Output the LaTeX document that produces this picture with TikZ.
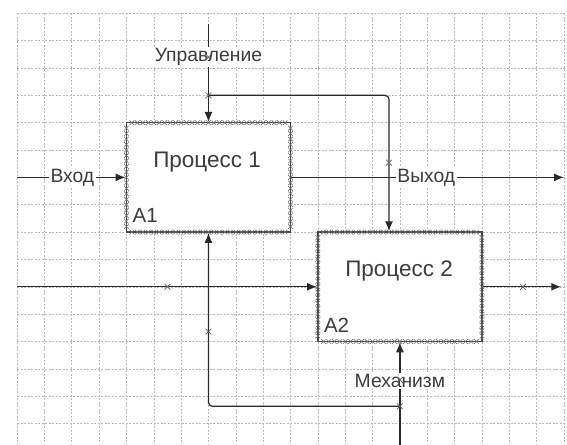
\documentclass[tikz,border=0pt]{standalone}
\usepackage{fontspec}
\setmainfont{Liberation Sans}
\usetikzlibrary{arrows.meta,shapes.misc}
\definecolor{ink}{HTML}{2A2A2A}
\definecolor{txt}{HTML}{3C3C3C}
\begin{document}
\begin{tikzpicture}[x=27.35pt,y=-27.35pt,
    gridline/.style={draw=gray!55,line width=.5pt,dash pattern=on 2pt off 1.5pt},
    proc/.style={draw=ink!85,line width=1.6pt,fill=white,inner sep=0,
        minimum width=164.1pt,minimum height=109.4pt},
    flow/.style={draw=ink,line width=1.2pt,-{Latex[length=10pt,width=8pt]}},
    lab/.style={fill=white,inner sep=1.5pt,text=txt,font=\fontsize{19.3}{22}\selectfont},
    title/.style={text=txt,font=\fontsize{22.5}{26}\selectfont},
    tag/.style={text=txt,anchor=base west,inner sep=0,font=\fontsize{20.5}{24}\selectfont},
    xmark/.style={cross out,draw=gray!75!black,line width=.7pt,minimum size=5pt,inner sep=0},
    tick/.style={cross out,draw=gray!85!black,line width=.6pt,minimum size=4pt,inner sep=0}]
\useasboundingbox (-.622,-.486) rectangle (20.11,15.75);

\foreach \i in {0,...,20} \draw[gridline] (\i,0) -- (\i,15.8);
\foreach \j in {0,...,15} \draw[gridline] (0,\j) -- (20.2,\j);

\node[proc] (p1) at (7,6) {};
\node[proc] (p2) at (14,10) {};
\foreach \x in {4.2,4.4,...,9.9} {\node[tick] at (\x,4) {}; \node[tick] at (\x,8) {};}
\foreach \y in {4.2,4.4,...,7.9} {\node[tick] at (4,\y) {}; \node[tick] at (10,\y) {};}
\foreach \x in {11.2,11.4,...,16.9} {\node[tick] at (\x,8) {}; \node[tick] at (\x,12) {};}
\foreach \y in {8.2,8.4,...,11.9} {\node[tick] at (11,\y) {}; \node[tick] at (17,\y) {};}
\node[title] (t1) at (6.95,5.43) {Процесс 1};
\node[title] (t2) at (13.97,9.42) {Процесс 2};
\node[tag] (a1) at (4.22,7.66) {A1};
\node[tag] (a2) at (11.22,11.66) {A2};

\coordinate (ctrl) at (7,.39);
\coordinate (cj) at (7,3);
\coordinate (in1) at (0,6);
\coordinate (out1) at (20,6);
\coordinate (in2) at (0,10);
\coordinate (out2) at (19.9,10);
\coordinate (mech) at (14,15.8);
\coordinate (mj) at (14,14.37);

\draw[flow] (ctrl) -- node[lab,pos=.335] (cl) {Управление} (p1.north);
\draw[flow,rounded corners=4pt] (cj) -| ([xshift=-10.9pt]p2.north);
\draw[flow] (in1) -- node[lab,pos=.51] (il) {Вход} (p1.west);
\draw[flow] (p1.east) -- node[lab,pos=.495] (ol) {Выход} (out1);
\draw[flow] (in2) -- (p2.west);
\draw[flow] (p2.east) -- (out2);
\draw[flow] (mech) -- node[lab,pos=.627] (ml) {Механизм} (p2.south);
\draw[flow,rounded corners=4pt] (mj) -| (p1.south);

\node[xmark] at (cj) {};
\node[xmark] at (mj) {};
\node[xmark] at (7,1.6) {};
\node[xmark] at (14,13.4) {};
\node[xmark] at (13.6,5.46) {};
\node[xmark] at (5.5,10) {};
\node[xmark] at (18.5,10) {};
\node[xmark] at (7,11.64) {};
\end{tikzpicture}
\end{document}
